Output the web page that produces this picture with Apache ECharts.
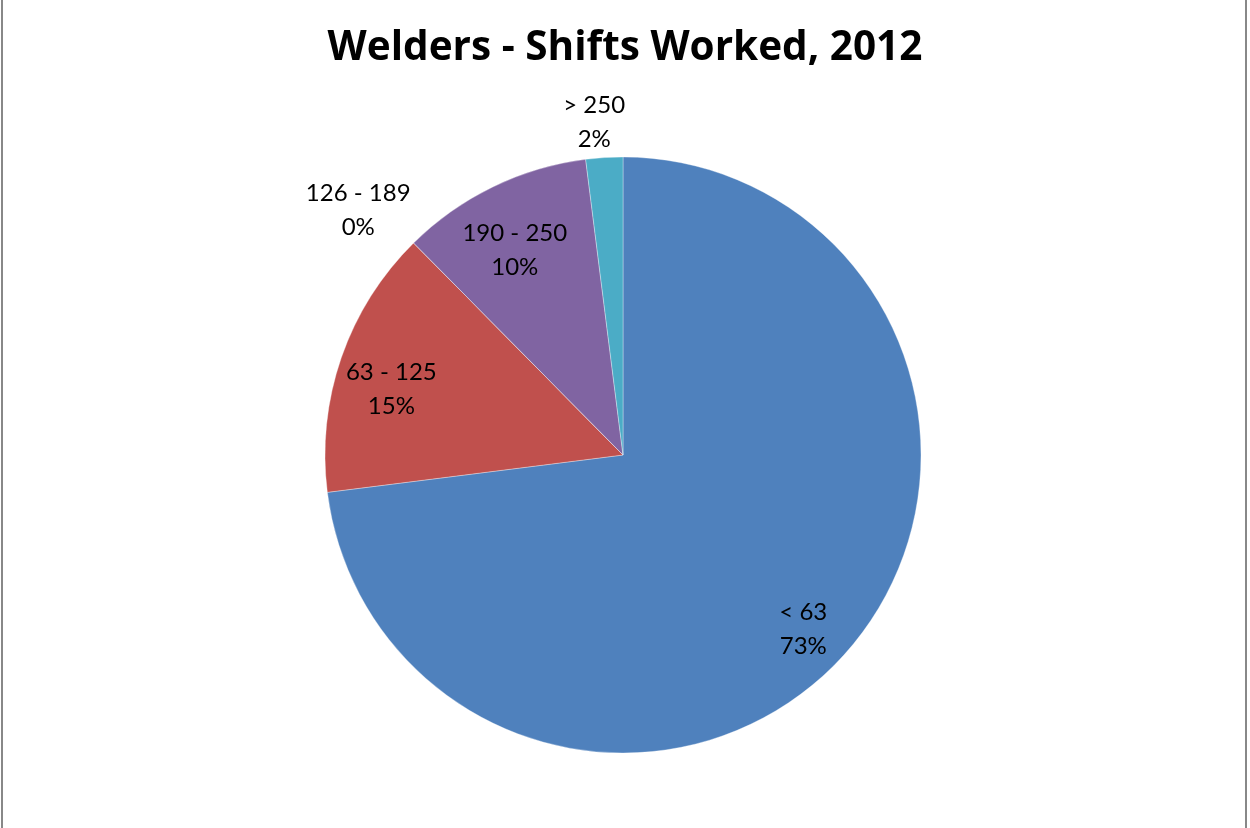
<!DOCTYPE html>
<html>
<head>
<meta charset="utf-8">
<script src="https://cdn.jsdelivr.net/npm/echarts@6/dist/echarts.min.js"></script>
<style>
html,body{margin:0;padding:0;background:#fff;}
#chart{width:1250px;height:828px;}
</style>
</head>
<body>
<div id="chart"></div>
<script>
// ---- data ----
const categories = ['< 63', '63 - 125', '126 - 189', '190 - 250', '> 250'];
const shares = [73.0, 14.6, 0, 10.4, 2.0];
const sliceColors = ['#4F81BD', '#C0504D', '#9BBB59', '#8064A2', '#4BACC6'];
const titleText = 'Welders - Shifts Worked, 2012';

// ---- layout ----
// label rings: which slices get their label drawn on which ring, plus a small horizontal nudge
const labelRings = [
  {idx: [0, 1, 3], radius: [180, 300], nudgeX: 0},
  {idx: [2], radius: [340, 382], nudgeX: -7},
  {idx: [4], radius: [322, 366], nudgeX: -5}
];
const LABEL_CENTER = [621, 469];
const FONT = 'Lato, "Open Sans", sans-serif';
const TITLE_FONT = '"Open Sans", Lato, sans-serif';

const chart = echarts.init(document.getElementById('chart'), null, {renderer: 'canvas'});

function labelSeries(ring) {
  const dx = ring.nudgeX;
  const pad = [0, Math.max(0, -2 * dx), 0, Math.max(0, 2 * dx)];
  return {
    type: 'pie',
    silent: true,
    center: LABEL_CENTER,
    radius: ring.radius,
    startAngle: 90,
    clockwise: true,
    avoidLabelOverlap: false,
    percentPrecision: 0,
    itemStyle: {color: 'rgba(0,0,0,0)', borderWidth: 0},
    label: {
      position: 'inside',
      formatter: '{b}\n{d}%',
      color: '#000',
      fontFamily: FONT,
      fontSize: 24,
      lineHeight: 34,
      padding: pad
    },
    labelLine: {show: false},
    emphasis: {disabled: true},
    data: categories.map((c, i) => ({
      name: c,
      value: shares[i],
      label: {show: ring.idx.indexOf(i) >= 0}
    }))
  };
}

chart.setOption({
  backgroundColor: '#fff',
  animation: false,
  title: {
    text: titleText,
    left: 'center',
    top: 23,
    textStyle: {fontFamily: TITLE_FONT, fontWeight: 'bold', fontSize: 40.5, color: '#000'}
  },
  graphic: [{
    type: 'rect',
    shape: {x: 2, y: -10, width: 1244, height: 850},
    style: {fill: null, stroke: '#888', lineWidth: 2},
    silent: true
  }],
  series: [
    {
      type: 'pie',
      center: [623, 455],
      radius: 298,
      startAngle: 90,
      clockwise: true,
      avoidLabelOverlap: false,
      percentPrecision: 0,
      label: {show: false},
      labelLine: {show: false},
      itemStyle: {borderColor: 'rgba(255,255,255,0.55)', borderWidth: 0.6},
      emphasis: {disabled: true},
      data: categories.map((c, i) => ({name: c, value: shares[i], itemStyle: {color: sliceColors[i]}}))
    }
  ].concat(labelRings.map(labelSeries))
});
</script>
</body>
</html>
